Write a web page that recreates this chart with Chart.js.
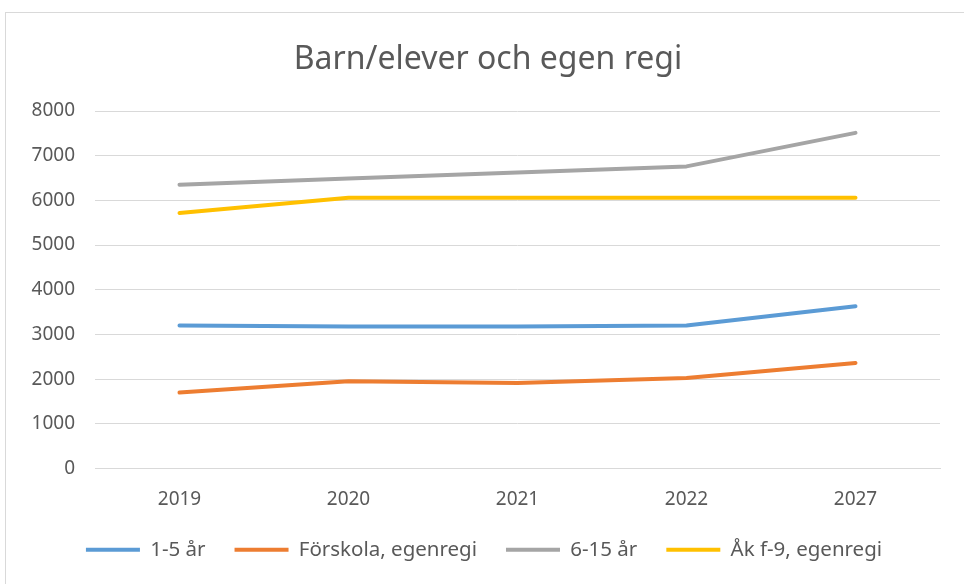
<!DOCTYPE html>
<html>
<head>
<meta charset="utf-8">
<script src="https://cdn.jsdelivr.net/npm/chart.js@4"></script>
<style>
  html, body { margin: 0; padding: 0; background: #fff; }
  #frame {
    position: absolute; left: 5px; top: 12px; width: 970px; height: 590px;
    border: 1px solid #d9d9d9; box-sizing: border-box;
  }
  #wrap { position: absolute; left: 0; top: 0; width: 964px; height: 584px; }
  #title {
    position: absolute; left: 5px; top: 38px; width: 966px;
    text-align: center; line-height: 38px;
    font-family: "Noto Sans", "Open Sans", sans-serif; font-size: 32px;
    color: #595959;
  }
</style>
</head>
<body>
<div id="frame"></div>
<div id="wrap"><canvas id="chart" width="964" height="584"></canvas></div>
<div id="title">Barn/elever och egen regi</div>
<script>
// chart data
const years = ['2019', '2020', '2021', '2022', '2027'];
const barn1_5 = [3200, 3180, 3180, 3200, 3630];
const forskolaEgenregi = [1700, 1950, 1915, 2025, 2360];
const barn6_15 = [6350, 6490, 6625, 6760, 7510];
const akF9Egenregi = [5715, 6060, 6060, 6060, 6060];
const yTicks = [0, 1000, 2000, 3000, 4000, 5000, 6000, 7000, 8000];

const textColor = '#595959';
const gridColor = '#d9d9d9';
const fontFamily = '"Noto Sans", "Open Sans", sans-serif';

function line(label, data, color) {
    return {
        label: label,
        data: data,
        borderColor: color,
        backgroundColor: color,
        borderWidth: 4,
        borderCapStyle: 'round',
        borderJoinStyle: 'round',
        pointRadius: 0,
        tension: 0
    };
}

const ctx = document.getElementById('chart').getContext('2d');
new Chart(ctx, {
    type: 'line',
    data: {
        labels: years,
        datasets: [
            line('1-5 år', barn1_5, '#5b9bd5'),
            line('Förskola, egenregi', forskolaEgenregi, '#ed7d31'),
            line('6-15 år', barn6_15, '#a5a5a5'),
            line('Åk f-9, egenregi', akF9Egenregi, '#ffc000')
        ]
    },
    options: {
        responsive: false,
        animation: false,
        layout: { padding: { left: 28, right: 24, top: 111, bottom: 14 } },
        plugins: {
            title: { display: false },
            legend: {
                position: 'bottom',
                labels: {
                    color: textColor,
                    font: { family: fontFamily, size: 20.5 },
                    boxWidth: 54,
                    boxHeight: 4,
                    padding: 29,
                    generateLabels: function(chart) {
                        const items = Chart.defaults.plugins.legend.labels.generateLabels(chart);
                        items.forEach(it => { it.lineWidth = 0; });
                        return items;
                    }
                }
            },
            tooltip: { enabled: false }
        },
        scales: {
            x: {
                offset: true,
                afterFit: function(scale) { scale.height = 42; },
                grid: { display: false, drawTicks: false },
                border: { display: true, color: gridColor, width: 1 },
                ticks: {
                    color: textColor,
                    padding: 20,
                    font: { family: fontFamily, size: 19 }
                }
            },
            y: {
                min: 0,
                max: 8000,
                afterFit: function(scale) { scale.width = 67; },
                afterBuildTicks: function(scale) {
                    scale.ticks = yTicks.map(v => ({ value: v }));
                },
                grid: { color: gridColor, drawTicks: false },
                border: { display: false },
                ticks: {
                    color: textColor,
                    padding: 20,
                    font: { family: fontFamily, size: 19 },
                    callback: function(value) { return String(value); }
                }
            }
        }
    }
});
</script>
</body>
</html>
